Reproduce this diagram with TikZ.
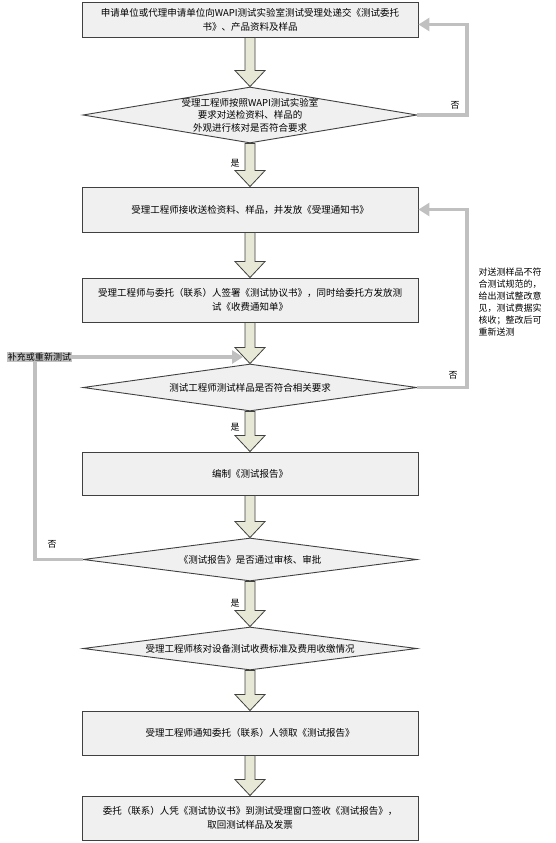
\documentclass[tikz,border=0pt]{standalone}
\usepackage{fontspec}
\setmainfont{Noto Sans CJK SC}
\usetikzlibrary{shapes.geometric,arrows.meta}
\definecolor{boxfill}{HTML}{F0F0F0}
\definecolor{edge}{HTML}{404040}
\definecolor{arrowfill}{HTML}{E8E8D6}
\definecolor{backline}{HTML}{C0C0C0}
\tikzset{
  stepbox/.style={draw=edge,line width=0.9pt,fill=boxfill,minimum width=336pt,minimum height=44pt,align=center,font=\fontsize{9.5}{14}\selectfont},
  decision/.style={draw=edge,line width=0.9pt,fill=boxfill,shape=diamond,minimum width=334pt,inner sep=0pt},
  decisiontext/.style={align=center,font=\fontsize{9.5}{12.5}\selectfont},
  bigarrow/.style={draw=edge,line width=0.8pt,fill=arrowfill,line join=miter},
  back/.style={draw=backline,line width=3.5pt,-{Triangle[length=11pt,width=13pt]}},
  note/.style={align=left,font=\fontsize{9}{12}\selectfont}
}
\begin{document}
\begin{tikzpicture}
\useasboundingbox (0,0) rectangle (555pt,-843pt);
% steps and decisions
\node[stepbox,minimum height=35pt] (b1) at (250pt,-19.5pt) {申请单位或代理申请单位向WAPI测试实验室测试受理处递交《测试委托\\书》、产品资料及样品};
\node[decision,minimum height=56pt] (d1) at (250pt,-115pt) {};
\node[decisiontext] (t1) at (d1) {受理工程师按照WAPI测试实验室\\要求对送检资料、样品的\\外观进行核对是否符合要求};
\node[stepbox,minimum height=45pt] (b2) at (250pt,-209.5pt) {受理工程师接收送检资料、样品，并发放《受理通知书》};
\node[stepbox] (b3) at (250pt,-300pt) {受理工程师与委托（联系）人签署《测试协议书》，同时给委托方发放测\\试《收费通知单》};
\node[decision,minimum height=47pt] (d3) at (250pt,-387.5pt) {};
\node[decisiontext] (t3) at (d3) {测试工程师测试样品是否符合相关要求};
\node[stepbox,minimum height=43pt] (b4) at (250pt,-473.5pt) {编制《测试报告》};
\node[decision,minimum height=43pt] (d5) at (250pt,-559.5pt) {};
\node[decisiontext] (t5) at (d5) {《测试报告》是否通过审核、审批};
\node[decision,minimum height=43pt] (d6) at (250pt,-648.5pt) {};
\node[decisiontext] (t6) at (d6) {受理工程师核对设备测试收费标准及费用收缴情况};
\node[stepbox] (b7) at (250pt,-733pt) {受理工程师通知委托（联系）人领取《测试报告》};
\node[stepbox] (b8) at (250pt,-818pt) {委托（联系）人凭《测试协议书》到测试受理窗口签收《测试报告》，\\取回测试样品及发票};
% block arrows
\foreach \a/\b in {b1/d1,d1/b2,b2/b3,b3/d3,d3/b4,b4/d5,d5/d6,d6/b7,b7/b8}
  \draw[bigarrow] ([xshift=-5pt]\a.south) -- ([shift={(-5pt,16pt)}]\b.north) -- ++(-10pt,0) -- (\b.north) -- ++(15pt,16pt) -- ++(-10pt,0) -- ([xshift=5pt]\a.south) -- cycle;
% loops back
\coordinate (redo) at (243pt,-357pt);
\draw[back] (d1.east) -- (467pt,-115pt) |- ([yshift=-5pt]b1.east);
\draw[back] (d3.east) -- (467pt,-387.5pt) |- (b2.east);
\draw[back] (d5.west) -| (35pt,-357pt) -- (redo);
\node[fill=backline,inner sep=1pt,font=\fontsize{9}{9}\selectfont] (redolbl) at (39.5pt,-357pt) {补充或重新测试};
\node[note,anchor=north west] (remark) at (475pt,-264pt) {对送测样品不符\\合测试规范的，\\给出测试整改意\\见，测试费据实\\核收；整改后可\\重新送测};
% yes / no
\node[note] (yes1) at (235pt,-163pt) {是};
\node[note] (yes3) at (235pt,-427pt) {是};
\node[note] (yes5) at (235pt,-603pt) {是};
\node[note] (no1) at (455pt,-105pt) {否};
\node[note] (no3) at (453pt,-375pt) {否};
\node[note] (no5) at (52pt,-544pt) {否};
\end{tikzpicture}
\end{document}
